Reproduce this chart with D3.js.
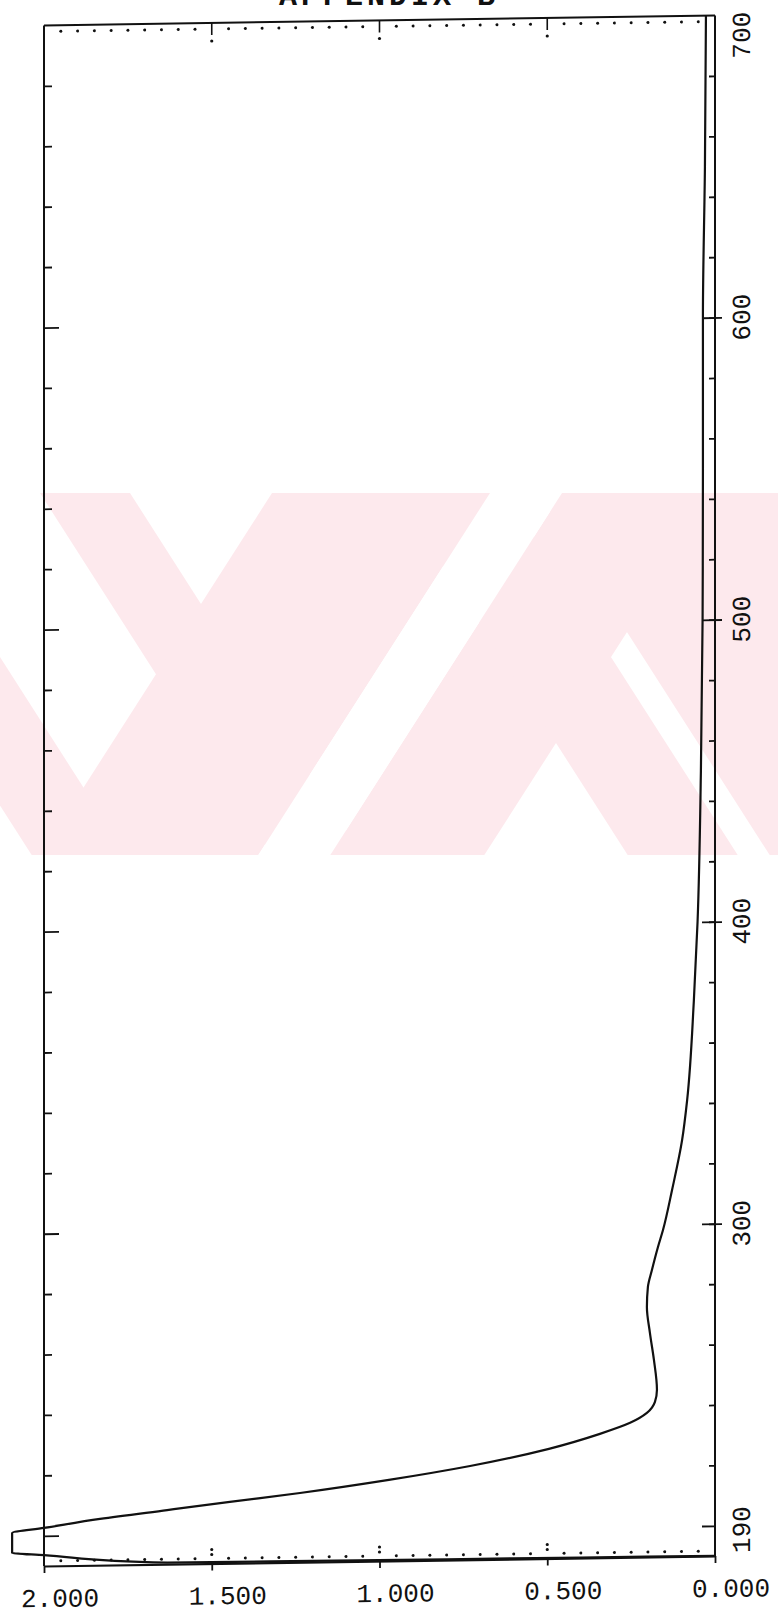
<!DOCTYPE html>
<html>
<head>
<meta charset="utf-8">
<script src="https://cdn.jsdelivr.net/npm/d3@7"></script>
<style>
    body { margin: 0; background: #fff; }
    svg { display: block; }
    .frame { stroke: #111; stroke-width: 2; fill: none; }
    .trace { stroke: #111; stroke-width: 2.2; fill: none; stroke-linejoin: round; }
    .label { font-family: "Liberation Mono", "DejaVu Sans Mono", monospace; font-size: 26px; fill: #111; }
    .axis .domain { stroke: #111; stroke-width: 2.2; }
    .axis .tick line { stroke: #111; stroke-width: 1.8; }
</style>
</head>
<body>
<svg id="chart" width="778" height="1615"></svg>
<script>
// trace: wavelength (nm) and absorbance
const wavelengths = [700, 650, 600, 550, 500, 450, 400, 374, 341.1, 327.9, 311.4, 298.2, 292.6, 285.0, 279.4,
    272.8, 264.2, 255.2, 245.3, 241.3, 237.7, 234.5, 231.0, 226.3, 221.0, 216.8, 212.9, 210.3, 207.9,
    205.3, 202.6, 201.1, 194.5, 193.6, 190.5, 190.35, 190.25, 190.15, 190.05];
const absorbance = [0.027, 0.030, 0.036, 0.036, 0.037, 0.042, 0.052, 0.063, 0.083, 0.098, 0.128, 0.155, 0.170, 0.188, 0.200,
    0.203, 0.194, 0.182, 0.173, 0.179, 0.203, 0.253, 0.343, 0.495, 0.730, 0.972, 1.237, 1.446, 1.633,
    1.833, 2.000, 2.095, 2.095, 2.000, 1.633, 1.200, 0.800, 0.400, 0.000];

const absTicks = [2.0, 1.5, 1.0, 0.5, 0.0];
const absTickLabels = ["2.000", "1.500", "1.000", "0.500", "0.000"];
const nmTicks = [700, 600, 500, 400, 300, 190];
const nmTickLabels = ["700", "600", "500", "400", "300", "190"];
const titleText = "APPENDIX B";

class SpectrumPlot {

    constructor() {
        this.svg = d3.select("#chart");
        this.x = d3.scaleLinear().domain([2, 0]).range([44, 715]);
        this.y = d3.scaleLinear().domain([700, 190]).range([15.5, 1556]);
        this.data = wavelengths.map((w, i) => ({nm: w, a: absorbance[i]}));
    }

    drawWatermark() {
        // pale logo stamped across the page
        let band = {top: 493, h: 362};
        let run = 0.64 * band.h;
        this.svg.append("clipPath").attr("id", "wmClip")
            .append("rect").attr("x", 0).attr("y", band.top).attr("width", 778).attr("height", band.h);
        let wm = this.svg.append("g").attr("clip-path", "url(#wmClip)");
        let back = (a, w) => [[a, band.top], [a + w, band.top], [a + w + run, band.top + band.h], [a + run, band.top + band.h]];
        let fwd = (a, w) => [[a, band.top], [a + w, band.top], [a + w - run, band.top + band.h], [a - run, band.top + band.h]];
        let pink = [back(40, 90), fwd(272, 218), fwd(562, 154), back(396, 110), back(538, 400), back(-200, 95)];
        wm.selectAll("polygon.pink")
            .data(pink)
            .enter()
            .append("polygon")
            .attr("class", "pink")
            .attr("points", d => d.map(p => p.join(",")).join(" "))
            .attr("fill", "#fde9ed");
        // white cut between the two slanted bands
        wm.append("polygon")
            .attr("points", fwd(490, 72).map(p => p.join(",")).join(" "))
            .attr("fill", "#fff");
    }

    drawFrame() {
        let x = this.x, y = this.y;
        // paper was fed slightly skewed
        this.g = this.svg.append("g").attr("transform", "matrix(1,-0.0149,0,1,0,10.65)");
        let g = this.g;

        // top edge (700 nm) and outer borders
        g.append("line").attr("class", "frame")
            .attr("x1", x(2)).attr("x2", x(0)).attr("y1", y(700)).attr("y2", y(700));
        g.append("line").attr("class", "frame")
            .attr("x1", x(2)).attr("x2", x(2)).attr("y1", y(700)).attr("y2", y(190));
        g.append("line").attr("class", "frame")
            .attr("x1", x(0)).attr("x2", x(0)).attr("y1", y(700)).attr("y2", y(190));

        // bottom absorbance axis
        g.append("g").attr("class", "axis")
            .attr("transform", "translate(0," + y(190) + ")")
            .call(d3.axisBottom(x).tickValues(absTicks).tickSizeInner(7).tickSizeOuter(0).tickFormat(""));

        let minor = d3.range(1, 40).map(i => i * 0.05).filter(v => Math.abs(v * 2 - Math.round(v * 2)) > 1e-6);
        g.selectAll("circle.botMinor").data(minor).enter().append("circle")
            .attr("class", "botMinor").attr("r", 1.5).attr("fill", "#111")
            .attr("cx", d => x(d)).attr("cy", y(190) - 5);
        g.selectAll("circle.topMinor").data(minor).enter().append("circle")
            .attr("class", "topMinor").attr("r", 1.5).attr("fill", "#111")
            .attr("cx", d => x(d)).attr("cy", y(700) + 6);

        let inner = [1.5, 1.0, 0.5];
        inner.forEach(v => {
            [-14, -9].forEach(off => {
                g.append("circle").attr("r", 1.6).attr("fill", "#111")
                    .attr("cx", x(v)).attr("cy", y(190) + off);
            });
            g.append("line").attr("stroke", "#111").attr("stroke-width", 1.6)
                .attr("x1", x(v)).attr("x2", x(v)).attr("y1", y(700)).attr("y2", y(700) + 12);
            g.append("circle").attr("r", 1.6).attr("fill", "#111")
                .attr("cx", x(v)).attr("cy", y(700) + 18);
        });

        // wavelength ticks every 20 nm
        let nmMinor = d3.range(200, 700, 20);
        g.append("g").attr("class", "axis")
            .attr("transform", "translate(" + x(0) + ",0)")
            .call(d3.axisLeft(y).tickValues(nmMinor).tickSizeInner(6).tickSizeOuter(0).tickFormat(""))
            .call(a => a.select(".domain").remove())
            .selectAll(".tick line").attr("x2", d => d === 200 ? -13 : -6);
        g.append("g").attr("class", "axis")
            .attr("transform", "translate(" + x(0) + ",0)")
            .call(d3.axisRight(y).tickValues([300, 400, 500, 600]).tickSizeInner(7).tickSizeOuter(0).tickFormat(""))
            .call(a => a.select(".domain").remove())
            .selectAll(".tick line").attr("x1", -13);
        g.append("g").attr("class", "axis")
            .attr("transform", "translate(" + x(2) + ",0)")
            .call(d3.axisRight(y).tickValues(nmMinor).tickSizeInner(8).tickSizeOuter(0).tickFormat(""))
            .call(a => a.select(".domain").remove())
            .selectAll(".tick line").attr("x2", d => d % 100 === 0 ? 15 : 8);
    }

    drawLabels() {
        let x = this.x, y = this.y, g = this.g;

        g.selectAll("text.absLabel")
            .data(absTicks)
            .enter()
            .append("text")
            .attr("class", "label absLabel")
            .attr("text-anchor", "middle")
            .attr("x", d => x(d) + 16)
            .attr("y", y(190) + 41)
            .text((d, i) => absTickLabels[i]);

        // end labels are pulled inside the frame
        let nudge = {700: 20, 190: -26};
        g.selectAll("text.nmLabel")
            .data(nmTicks)
            .enter()
            .append("text")
            .attr("class", "label nmLabel")
            .attr("text-anchor", "middle")
            .attr("dominant-baseline", "central")
            .attr("transform", d => "translate(" + (x(0) + 28) + "," + (y(d) + (nudge[d] || 0)) + ") rotate(-90)")
            .text((d, i) => nmTickLabels[i]);

        // heading cut off by the top of the page
        this.svg.append("text")
            .attr("x", 389).attr("y", 5)
            .attr("text-anchor", "middle")
            .style("font-family", "Liberation Mono, monospace")
            .style("font-size", "30px").style("font-weight", "bold")
            .style("letter-spacing", "4px")
            .attr("fill", "#111")
            .text(titleText);
    }

    drawTrace() {
        let x = this.x, y = this.y;
        // nm falls steadily along the trace, so interpolate x against y
        let line = d3.line()
            .x(d => x(d.a))
            .y(d => y(d.nm))
            .curve(d3.curveMonotoneY);
        this.g.append("path")
            .datum(this.data)
            .attr("class", "trace")
            .attr("d", line);
    }
}

let plot = new SpectrumPlot();
plot.drawWatermark();
plot.drawFrame();
plot.drawTrace();
plot.drawLabels();
</script>
</body>
</html>
